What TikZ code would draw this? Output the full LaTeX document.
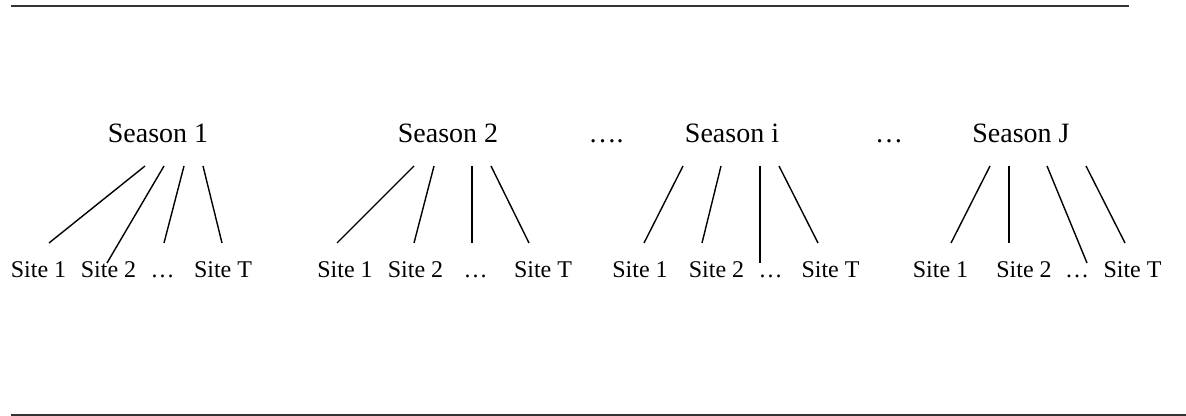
\documentclass[tikz,border=0pt]{standalone}
\usepackage{fontspec}
\setmainfont{Liberation Serif}
\begin{document}
\begin{tikzpicture}[x=0.5pt,y=-0.5pt,
  season/.style={anchor=base,inner sep=0pt,font=\fontsize{14pt}{16pt}\selectfont},
  site/.style={anchor=base,inner sep=0pt,font=\fontsize{12pt}{14pt}\selectfont},
  branch/.style={line width=0.7pt,black},
  rule/.style={line width=1pt,black!80}]
\useasboundingbox (0,0) rectangle (1186,416);

% horizontal rules above and below
\coordinate (ruleTopL) at (11,6);
\coordinate (ruleTopR) at (1129,6);
\coordinate (ruleBotL) at (11,414.5);
\coordinate (ruleBotR) at (1186,414.5);
\draw[rule] (ruleTopL) -- (ruleTopR);
\draw[rule] (ruleBotL) -- (ruleBotR);

% season headings
\node[season] (season1) at (158,143) {Season 1};
\node[season] (season2) at (448,143) {Season 2};
\node[season] (dotsA)   at (606,143) {….};
\node[season] (seasoni) at (732,143) {Season i};
\node[season] (dotsB)   at (889,143) {…};
\node[season] (seasonJ) at (1021,143) {Season J};

% site labels under each season
\foreach \t/\a/\b/\c/\d in {1/38.5/108.5/162.5/223,
                            2/345/415.5/475.5/543,
                            3/640/716.5/770.5/830.5,
                            4/940.5/1024/1077/1132.5}{
  \node[site] (site\t a) at (\a,278) {Site 1};
  \node[site] (site\t b) at (\b,278) {Site 2};
  \node[site] (site\t c) at (\c,278) {…};
  \node[site] (site\t d) at (\d,278) {Site T};
}

% branches from each season down to its sites
\foreach \n/\xa/\xb/\yb in {1/145/49/243, 2/164/107/263, 3/184/164/243, 4/203/222/243,
                            5/414/337/243, 6/434/414/243, 7/472/472/243, 8/491/529/243,
                            9/683/644/243, 10/721/702/243, 11/760/760/263, 12/779/818/243,
                            13/990/951/243, 14/1009/1009/243, 15/1047/1087/263, 16/1086/1125/243}{
  \coordinate (bt\n) at (\xa,166);
  \coordinate (bb\n) at (\xb,\yb);
  \draw[branch] (bt\n) -- (bb\n);
}
\end{tikzpicture}
\end{document}
